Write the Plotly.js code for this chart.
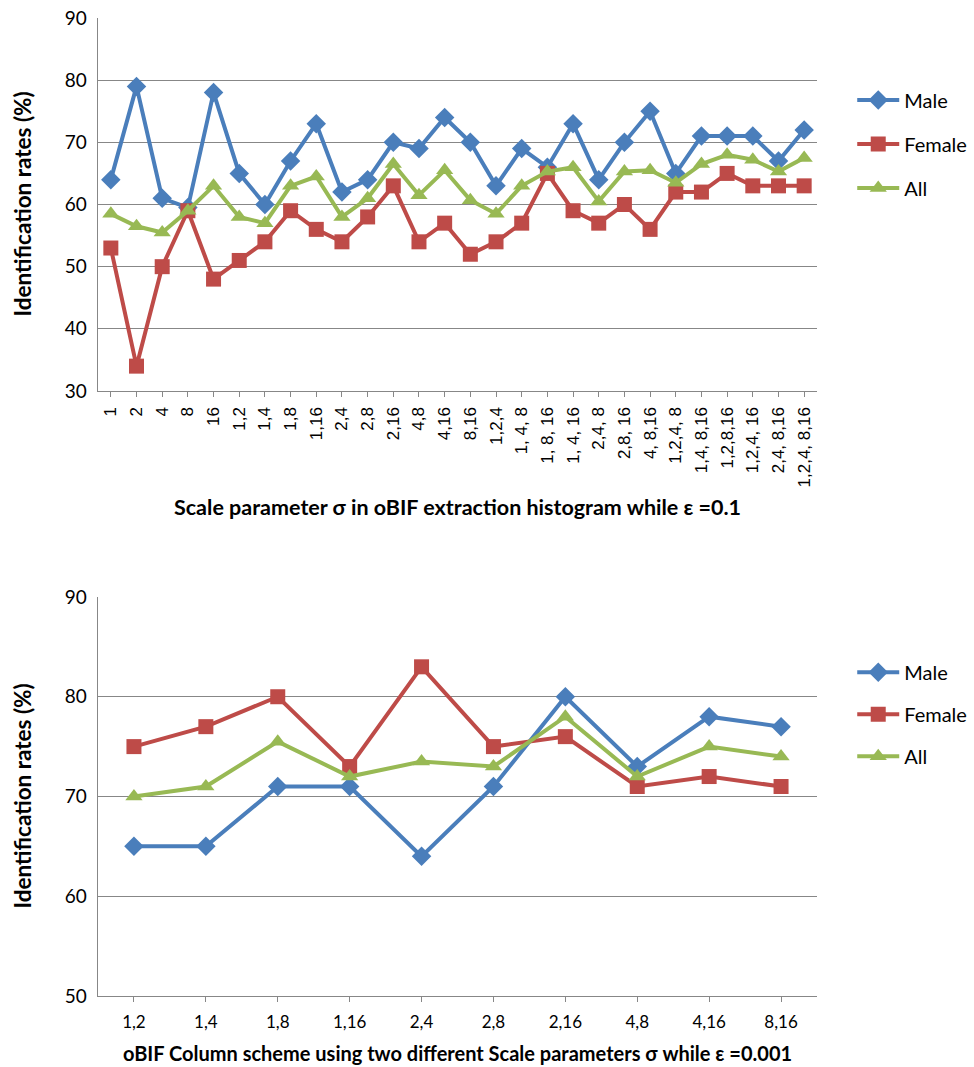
<!DOCTYPE html>
<html>
<head>
<meta charset="utf-8">
<script src="https://cdn.plot.ly/plotly-3.0.1.min.js"></script>
<style>
  html, body { margin: 0; padding: 0; background: #ffffff; }
  #chart { width: 974px; height: 1067px; }
</style>
</head>
<body>
<div id="chart"></div>
<script>
// ---- Data: top chart ----
const topCategories = ["1","2","4","8","16","1,2","1,4","1,8","1,16","2,4","2,8","2,16","4,8","4,16","8,16",
  "1,2,4","1, 4, 8","1, 8, 16","1, 4, 16","2,4, 8","2,8, 16","4, 8,16","1,2,4, 8","1,4, 8,16","1,2,8,16",
  "1,2,4, 16","2,4, 8,16","1,2,4, 8,16"];
const topMale   = [64,79,61,59.5,78,65,60,67,73,62,64,70,69,74,70,63,69,66,73,64,70,75,65,71,71,71,67,72];
const topFemale = [53,34,50,59,48,51,54,59,56,54,58,63,54,57,52,54,57,65,59,57,60,56,62,62,65,63,63,63];
const topAll    = [58.5,56.5,55.5,59,63,58,57,63,64.5,58,61,66.5,61.5,65.5,60.7,58.5,63,65.3,66,60.5,65.3,65.5,63.5,66.5,68,67.2,65.3,67.5];

// ---- Data: bottom chart ----
const botCategories = ["1,2","1,4","1,8","1,16","2,4","2,8","2,16","4,8","4,16","8,16"];
const botMale   = [65,65,71,71,64,71,80,73,78,77];
const botFemale = [75,77,80,73,83,75,76,71,72,71];
const botAll    = [70,71,75.5,72,73.5,73,78,72,75,74];

const seriesNames = ["Male","Female","All"];
const topTitleX = "Scale parameter \u03c3 in oBIF extraction histogram while \u03b5 =0.1";
const botTitleX = "oBIF Column scheme using two different Scale parameters \u03c3 while \u03b5 =0.001";
const titleY = "Identification rates (%)";

// ---- Styles ----
const colors = ["#4A7EBB", "#BE4B48", "#98B954"];
const symbols = ["diamond", "square", "triangle-up"];
const sizes = [15, 15, 15];
const gridCol = "#878787";
const calibri = "Lato, 'Open Sans', sans-serif";
const arial = "'Liberation Sans', Arial, sans-serif";

function mk(x, y, i, xa, ya, leg) {
  return {
    type: "scatter", mode: "lines+markers",
    x: x, y: y, name: seriesNames[i],
    xaxis: xa, yaxis: ya, legend: leg,
    legendgroup: leg + seriesNames[i],
    line: { color: colors[i], width: 4 },
    marker: { color: colors[i], symbol: symbols[i], size: sizes[i], line: { width: 0 } },
    cliponaxis: false
  };
}

const data = [
  mk(topCategories, topMale, 0, "x", "y", "legend"),
  mk(topCategories, topFemale, 1, "x", "y", "legend"),
  mk(topCategories, topAll, 2, "x", "y", "legend"),
  mk(botCategories, botMale, 0, "x2", "y2", "legend2"),
  mk(botCategories, botFemale, 1, "x2", "y2", "legend2"),
  mk(botCategories, botAll, 2, "x2", "y2", "legend2")
];

const xCommon = {
  type: "category", showgrid: false, zeroline: false, autorange: false,
  showline: true, linecolor: gridCol, linewidth: 1.3,
  ticks: "outside", ticklen: 5, tickcolor: gridCol, tickwidth: 1,
  tickfont: { color: "#000" }
};
const yCommon = {
  showgrid: true, gridcolor: gridCol, gridwidth: 1.3, zeroline: false,
  showline: true, linecolor: gridCol, linewidth: 1.3,
  ticks: "", dtick: 10, ticklabelstandoff: 6,
  tickfont: { family: calibri, size: 19, color: "#000" }
};

const layout = {
  width: 974, height: 1067,
  margin: { l: 98, r: 157, t: 18, b: 71, autoexpand: false },
  paper_bgcolor: "#ffffff", plot_bgcolor: "#ffffff",
  font: { family: calibri, color: "#000" },
  xaxis: Object.assign({}, xCommon, {
    domain: [0, 1], anchor: "y", tickangle: -90,
    range: [-0.5, topCategories.length - 0.5],
    ticklabelstandoff: 3,
    tickfont: { family: arial, size: 17, color: "#000" }
  }),
  yaxis: Object.assign({}, yCommon, { domain: [0.6186, 1], anchor: "x", range: [30, 90] }),
  xaxis2: Object.assign({}, xCommon, {
    domain: [0, 1], anchor: "y2", tickangle: 0,
    range: [-0.5, botCategories.length - 0.5],
    ticklabelstandoff: 5,
    tickfont: { family: calibri, size: 17, color: "#000" }
  }),
  yaxis2: Object.assign({}, yCommon, { domain: [0, 0.408], anchor: "x2", range: [50, 90] }),
  legend: {
    x: 1.049, y: 0.936, xanchor: "left", yanchor: "top",
    font: { family: calibri, size: 20, color: "#000" },
    bgcolor: "rgba(0,0,0,0)", tracegroupgap: 15, itemwidth: 42
  },
  legend2: {
    x: 1.049, y: 0.351, xanchor: "left", yanchor: "top",
    font: { family: calibri, size: 20, color: "#000" },
    bgcolor: "rgba(0,0,0,0)", tracegroupgap: 13, itemwidth: 42
  },
  showlegend: true,
  annotations: [
    { text: "<b>" + topTitleX + "</b>", xref: "paper", yref: "paper", x: 0.5, y: 0.5,
      xanchor: "center", yanchor: "middle", showarrow: false,
      font: { family: calibri, size: 21.5, color: "#000" } },
    { text: "<b>" + botTitleX + "</b>", xref: "paper", yref: "paper", x: 0.5, y: -0.0583,
      xanchor: "center", yanchor: "middle", showarrow: false,
      font: { family: calibri, size: 20, color: "#000" } },
    { text: "<b>" + titleY + "</b>", xref: "paper", yref: "paper", x: -0.1056, y: 0.8093,
      xanchor: "center", yanchor: "middle", textangle: -90, showarrow: false,
      font: { family: calibri, size: 22.5, color: "#000" } },
    { text: "<b>" + titleY + "</b>", xref: "paper", yref: "paper", x: -0.1056, y: 0.204,
      xanchor: "center", yanchor: "middle", textangle: -90, showarrow: false,
      font: { family: calibri, size: 22.5, color: "#000" } }
  ]
};

Plotly.newPlot("chart", data, layout, { displayModeBar: false, staticPlot: true });
</script>
</body>
</html>
